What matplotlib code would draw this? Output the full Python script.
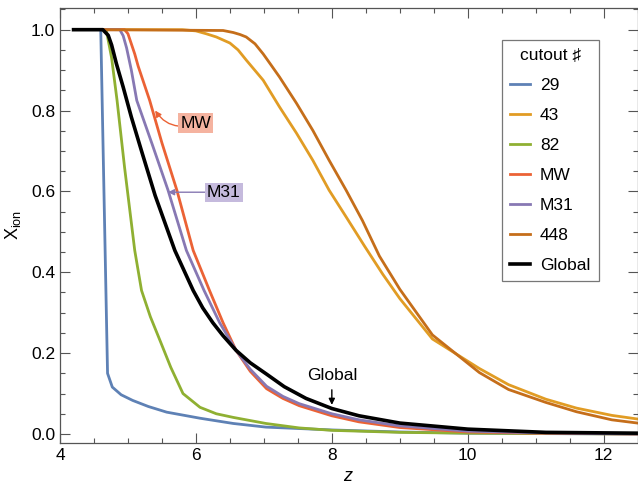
import matplotlib
matplotlib.use('Agg')
import matplotlib.pyplot as plt
from matplotlib.ticker import MultipleLocator

plt.rcParams['font.family'] = ['Liberation Sans', 'DejaVu Sans']
plt.rcParams['mathtext.fontset'] = 'custom'
plt.rcParams['mathtext.rm'] = 'Liberation Sans'
plt.rcParams['mathtext.it'] = 'Liberation Sans:italic'

# data (z, ionised fraction)
z_29 = [4.60, 4.70, 4.77, 4.90, 5.07, 5.30, 5.57, 6.06, 6.55, 7.03, 8.0, 9.0, 10.0, 11.0, 12.5]
x_29 = [1.0, 0.150, 0.116, 0.097, 0.083, 0.068, 0.054, 0.039, 0.026, 0.017, 0.010, 0.005, 0.002, 0.001, 0.0]

z_43 = [4.65, 5.80, 6.00, 6.15, 6.30, 6.50, 6.62, 6.74, 6.99, 7.23, 7.48, 7.72, 7.96, 8.21,
        8.48, 8.75, 9.00, 9.48, 10.17, 10.60, 11.15, 11.60, 12.12, 12.5]
x_43 = [1.0, 1.0, 0.997, 0.99, 0.982, 0.967, 0.95, 0.925, 0.875, 0.809, 0.744, 0.677, 0.603, 0.537,
        0.465, 0.395, 0.335, 0.235, 0.162, 0.122, 0.086, 0.064, 0.046, 0.037]

z_82 = [4.68, 4.76, 4.84, 4.95, 5.10, 5.20, 5.33, 5.47, 5.63, 5.81, 6.06, 6.30, 6.55, 7.03, 7.52, 8.0, 9.0, 10.0, 12.5]
x_82 = [1.0, 0.93, 0.825, 0.66, 0.454, 0.355, 0.29, 0.232, 0.165, 0.10, 0.066, 0.05, 0.041, 0.026, 0.015, 0.009, 0.004, 0.002, 0.0]

z_mw = [4.65, 4.95, 5.00, 5.05, 5.10, 5.15, 5.32, 5.50, 5.72, 5.96, 6.20, 6.40, 6.59, 6.80, 7.04,
        7.28, 7.52, 8.0, 8.4, 9.0, 10.0, 11.0, 12.5]
x_mw = [1.0, 1.0, 0.99, 0.965, 0.94, 0.91, 0.825, 0.72, 0.603, 0.454, 0.355, 0.275, 0.207, 0.155, 0.112,
        0.088, 0.07, 0.045, 0.03, 0.016, 0.005, 0.002, 0.0]

z_m31 = [4.65, 4.88, 4.93, 4.98, 5.05, 5.13, 5.36, 5.59, 5.86, 6.12, 6.35, 6.59, 6.80, 7.04,
         7.28, 7.52, 8.0, 8.4, 9.0, 10.0, 11.0, 12.5]
x_m31 = [1.0, 1.0, 0.985, 0.955, 0.9, 0.825, 0.715, 0.603, 0.454, 0.355, 0.275, 0.207, 0.16, 0.118,
         0.093, 0.075, 0.05, 0.035, 0.02, 0.007, 0.003, 0.0]

z_448 = [4.65, 6.40, 6.55, 6.65, 6.74, 6.87, 6.99, 7.10, 7.23, 7.48, 7.72, 7.96, 8.21, 8.45, 8.70,
         9.00, 9.48, 10.17, 10.60, 11.15, 11.60, 12.12, 12.5]
x_448 = [1.0, 0.998, 0.993, 0.988, 0.982, 0.965, 0.94, 0.914, 0.883, 0.818, 0.751, 0.677, 0.603, 0.528, 0.44,
         0.358, 0.245, 0.152, 0.11, 0.078, 0.055, 0.035, 0.027]

z_glob = [4.20, 4.63, 4.71, 4.76, 4.83, 4.93, 5.05, 5.20, 5.40, 5.69, 5.96, 6.10, 6.25, 6.40, 6.59,
          6.80, 7.04, 7.30, 7.62, 8.0, 8.4, 9.0, 10.0, 11.15, 12.5]
x_glob = [1.0, 1.0, 0.986, 0.962, 0.916, 0.858, 0.784, 0.70, 0.59, 0.454, 0.355, 0.312, 0.275, 0.243, 0.207,
          0.176, 0.148, 0.117, 0.088, 0.063, 0.045, 0.027, 0.012, 0.004, 0.002]

labels = ['29', '43', '82', 'MW', 'M31', '448', 'Global']
colors = ['#5E81B5', '#E19C24', '#8FB032', '#EB6235', '#8778B3', '#C56E1A', 'black']

fig = plt.figure(figsize=(6.38, 4.91), dpi=100)
ax = fig.add_axes([0.094, 0.098, 0.9055, 0.886])

series = [(z_29, x_29), (z_43, x_43), (z_82, x_82), (z_mw, x_mw),
          (z_m31, x_m31), (z_448, x_448), (z_glob, x_glob)]
for (zz, xx), lab, c in zip(series, labels, colors):
    lw = 2.6 if lab == 'Global' else 2.0
    ax.plot(zz, xx, color=c, lw=lw, label=lab, solid_joinstyle='round')

ax.set_xlim(4, 12.5)
ax.set_ylim(-0.022, 1.054)
ax.xaxis.set_major_locator(MultipleLocator(2))
ax.xaxis.set_minor_locator(MultipleLocator(0.5))
ax.yaxis.set_major_locator(MultipleLocator(0.2))
ax.yaxis.set_minor_locator(MultipleLocator(0.05))
ax.yaxis.set_major_formatter(plt.FormatStrFormatter('%.1f'))
ax.tick_params(which='both', direction='in', top=True, right=True,
               color='#555555', labelsize=12.5, width=0.8)
ax.tick_params(which='major', length=7)
ax.tick_params(which='minor', length=3.5)
for s in ax.spines.values():
    s.set_color('#555555')
    s.set_linewidth(0.9)

ax.set_xlabel('$z$', fontsize=13)
ax.set_ylabel(r'$\mathrm{X_{ion}}$', fontsize=13, labelpad=6)

# labels on the curves
ax.annotate('MW', xy=(5.40, 0.80), xytext=(6.0, 0.769), fontsize=12.5,
            ha='center', va='center',
            bbox=dict(boxstyle='square,pad=0.12', fc='#F5B3A0', ec='none'),
            arrowprops=dict(arrowstyle='-|>', color='#EB6235', lw=1,
                            mutation_scale=9, shrinkA=0, shrinkB=0,
                            connectionstyle='arc3,rad=-0.4'))
ax.annotate('M31', xy=(5.59, 0.598), xytext=(6.41, 0.598), fontsize=12.5,
            ha='center', va='center',
            bbox=dict(boxstyle='square,pad=0.12', fc='#C5BADD', ec='none'),
            arrowprops=dict(arrowstyle='-|>', color='#8778B3', lw=1,
                            mutation_scale=9, shrinkA=0, shrinkB=0))
ax.annotate('Global', xy=(8.0, 0.072), xytext=(8.0, 0.145), fontsize=12.5,
            ha='center', va='center',
            arrowprops=dict(arrowstyle='-|>', color='black', lw=1,
                            mutation_scale=9, shrinkA=3, shrinkB=0))

leg = ax.legend(title='cutout \u266f', loc='upper right',
                bbox_to_anchor=(0.933, 0.927), borderaxespad=0,
                fontsize=12.5, title_fontsize=12.5, handlelength=1.1,
                handletextpad=0.6, labelspacing=0.85, fancybox=False,
                framealpha=1, edgecolor='#777777', borderpad=0.5)
leg.get_frame().set_linewidth(0.9)

fig.savefig('out.png', dpi=100)
